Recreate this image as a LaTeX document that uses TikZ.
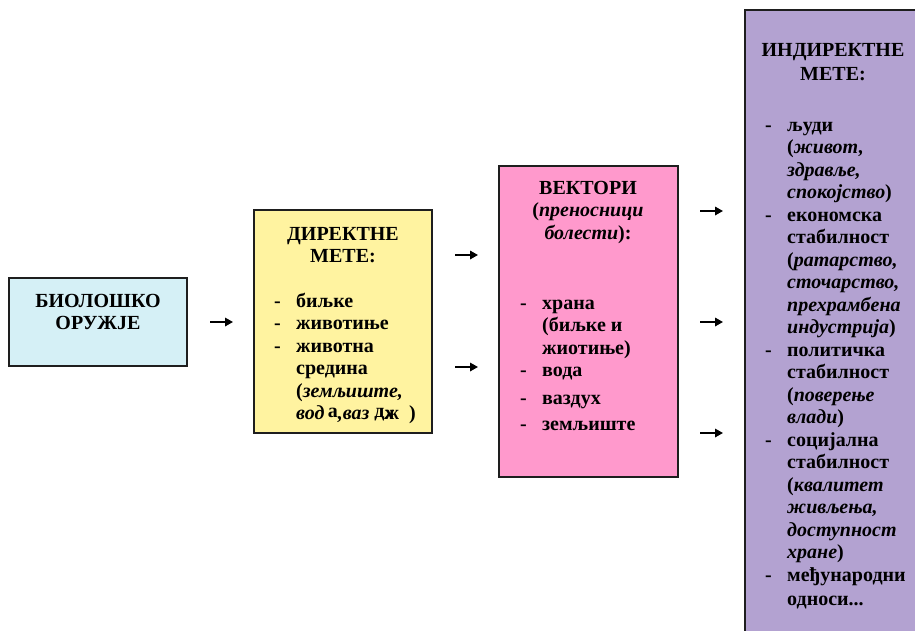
\documentclass[tikz,border=0pt]{standalone}
\usepackage{fontspec}
\setmainfont{Liberation Serif}[Script=Cyrillic,Language=Serbian]
\usetikzlibrary{arrows.meta}
\definecolor{cyanfill}{RGB}{213,240,246}
\definecolor{yellowfill}{RGB}{255,243,160}
\definecolor{pinkfill}{RGB}{255,153,204}
\definecolor{purplefill}{RGB}{179,162,209}
\definecolor{edge}{RGB}{30,30,30}
\tikzset{
  box/.style={draw=edge,line width=1.3pt,inner sep=0pt,outer sep=0pt,anchor=north west},
  txt/.style={inner sep=0pt,font=\fontsize{20}{22.5}\selectfont\bfseries},
  arr/.style={line width=1.7pt,-{Triangle[length=8pt,width=8.5pt]}}
}
\newcommand{\lst}[1]{\begin{tabular}[t]{@{}p{22pt}@{}l@{}}#1\end{tabular}}
\newcommand{\ctr}[1]{\begin{tabular}[t]{@{}c@{}}#1\end{tabular}}
\begin{document}
\begin{tikzpicture}[x=1pt,y=-1pt]
\useasboundingbox (0,0) rectangle (915,630);
\clip (0,0) rectangle (915,630);
% boxes
\node[box,fill=cyanfill,minimum width=178pt,minimum height=88pt] (bio) at (9,278) {};
\node[box,fill=yellowfill,minimum width=178pt,minimum height=223pt] (dir) at (254,210) {};
\node[box,fill=pinkfill,minimum width=179pt,minimum height=311pt] (vec) at (499,166) {};
\node[box,fill=purplefill,minimum width=190pt,minimum height=640pt] (ind) at (745,10) {};
% arrows
\coordinate (a1s) at (210,322); \coordinate (a1e) at (233,322);
\coordinate (a2s) at (455,255); \coordinate (a2e) at (478,255);
\coordinate (a3s) at (455,367); \coordinate (a3e) at (478,367);
\coordinate (a4s) at (700,211); \coordinate (a4e) at (723,211);
\coordinate (a5s) at (700,322); \coordinate (a5e) at (723,322);
\coordinate (a6s) at (700,433); \coordinate (a6e) at (723,433);
\draw[arr] (a1s) -- (a1e);
\draw[arr] (a2s) -- (a2e);
\draw[arr] (a3s) -- (a3e);
\draw[arr] (a4s) -- (a4e);
\draw[arr] (a5s) -- (a5e);
\draw[arr] (a6s) -- (a6e);
% texts
\node[txt,anchor=base] (biot) at (98,307) {\ctr{БИОЛОШКО\\ОРУЖЈЕ}};
\node[txt,anchor=base] (dirt) at (343,240) {\ctr{ДИРЕКТНЕ\\МЕТЕ:}};
\node[txt,anchor=base west] (dirl) at (274,307) {\lst{
- & биљке\\
- & животиње\\
- & животна\\
  & средина\\
  & (\textit{земљиште,}\\
  & \textit{вод}\,\raisebox{2pt}{а}\textit{,ваз}\ \raisebox{2pt}{д}\makebox[0pt][l]{\textit{х}}ж\ \ )}};
\node[txt,anchor=base] (vect) at (588,194) {\ctr{ВЕКТОРИ\\(\textit{преносници}\\\textit{болести}):}};
\node[txt,anchor=base west] (vecl) at (520,309) {\lst{
- & храна\\
  & (биљке и\\
  & жиотиње)\\
- & вода\\[5.5pt]
- & ваздух\\[3.5pt]
- & земљиште}};
\node[txt,anchor=base] (indt) at (833,56) {\ctr{ИНДИРЕКТНЕ\\[1.5pt]МЕТЕ:}};
\node[txt,anchor=base west] (indl) at (765,131) {\lst{
- & људи\\
  & (\textit{живот,}\\
  & \textit{здравље,}\\
  & \textit{спокојство})\\
- & економска\\
  & стабилност\\
  & (\textit{ратарство,}\\
  & \textit{сточарство,}\\
  & \textit{прехрамбена}\\
  & \textit{индустрија})\\
- & политичка\\
  & стабилност\\
  & (\textit{поверење}\\
  & \textit{влади})\\
- & социјална\\
  & стабилност\\
  & (\textit{квалитет}\\
  & \textit{живљења,}\\
  & \textit{доступност}\\
  & \textit{хране})\\
- & међународни\\[2pt]
  & односи...}};
\end{tikzpicture}
\end{document}
